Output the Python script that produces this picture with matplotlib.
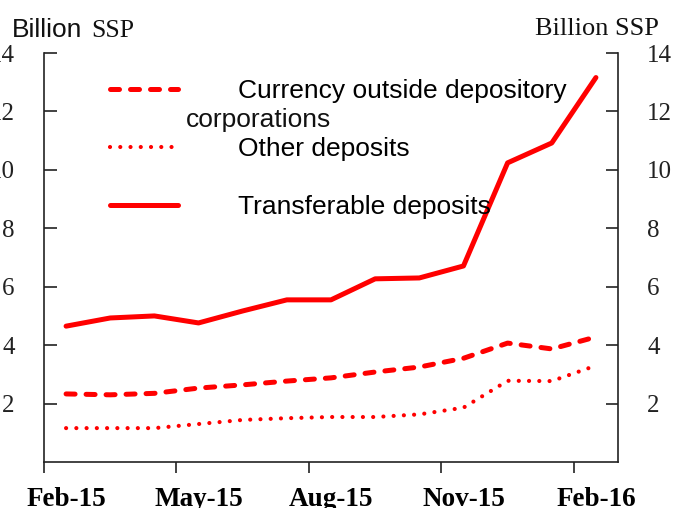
import numpy as np
import matplotlib.pyplot as plt
from matplotlib.ticker import FixedLocator, NullFormatter, FixedFormatter

# monthly data, Feb-15 .. Feb-16 (billion SSP)
months = ["Feb-15", "Mar-15", "Apr-15", "May-15", "Jun-15", "Jul-15", "Aug-15",
          "Sep-15", "Oct-15", "Nov-15", "Dec-15", "Jan-16", "Feb-16"]
currency = [2.33, 2.30, 2.35, 2.53, 2.64, 2.77, 2.88, 3.08, 3.25, 3.55, 4.07, 3.87, 4.28]
other_dep = [1.16, 1.16, 1.16, 1.30, 1.44, 1.50, 1.54, 1.54, 1.63, 1.86, 2.78, 2.77, 3.30]
transfer = [4.65, 4.93, 5.00, 4.76, 5.17, 5.55, 5.55, 6.27, 6.30, 6.71, 10.24, 10.92, 13.16]

label_months = ["Feb-15", "May-15", "Aug-15", "Nov-15", "Feb-16"]
yticks = [2, 4, 6, 8, 10, 12, 14]

red = "#ff0000"
serif = "Liberation Serif"
sans = "Liberation Sans"

fig = plt.figure(figsize=(6.8, 5.08), dpi=100)
ax = fig.add_axes([44/680, 46/508, 574/680, 409/508])

x = np.arange(len(months))
l1, = ax.plot(x, currency, color=red, lw=3.6, linestyle=(0, (1.8, 2.2)),
              dash_capstyle="round", solid_capstyle="round")
l2, = ax.plot(x, other_dep, color=red, lw=3.0, linestyle=(0, (0.01, 2.45)),
              dash_capstyle="round")
l3, = ax.plot(x, transfer, color=red, lw=3.6, solid_capstyle="round",
              solid_joinstyle="round")

ax.set_xlim(-0.5, len(months) - 0.5)
ax.set_ylim(0, 14)

# tick marks between months, labels centred on every third month
ax.xaxis.set_major_locator(FixedLocator(np.arange(-0.5, len(months) - 0.5, 3)))
ax.xaxis.set_major_formatter(NullFormatter())
lab_pos = [months.index(m) for m in label_months]
ax.xaxis.set_minor_locator(FixedLocator(lab_pos))
ax.xaxis.set_minor_formatter(FixedFormatter(label_months))
ax.tick_params(axis="x", which="major", direction="out", length=8, width=1.2, color="#222222")
ax.tick_params(axis="x", which="minor", length=0, pad=18)
for t in ax.get_xticklabels(minor=True):
    t.set_fontfamily(serif)
    t.set_fontsize(19.5)
    t.set_fontweight("bold")

ax.set_yticks(yticks)
ax.tick_params(axis="y", direction="in", length=9, width=1.2, color="#222222",
               left=True, right=True, labelleft=True, labelright=True, pad=21,
               labelsize=18, labelcolor="#222222")
for t in ax.yaxis.get_ticklabels():
    t.set_fontfamily(serif)

ax.spines["top"].set_visible(False)
for s in ["left", "right", "bottom"]:
    ax.spines[s].set_color("#222222")
    ax.spines[s].set_linewidth(1.2)

leg = ax.legend([l1, l2, l3],
                ["Currency outside depository", "Other deposits", "Transferable deposits"],
                loc="upper left", bbox_to_anchor=(0.115, 0.937), frameon=False,
                borderpad=0, borderaxespad=0, handlelength=2.58, handletextpad=2.27,
                labelspacing=1.3, prop={"family": sans, "size": 19})
ax.text(0.247, 0.836, "corporations", transform=ax.transAxes, family=sans,
        fontsize=19, va="center", ha="left", color="#111111")

fig.text(12/680, 1 - 37/508, "Billion", family=sans, fontsize=19, color="#111111")
fig.text(91/680, 1 - 37/508, "SSP", family=serif, fontsize=18.5, color="#111111")
fig.text(535/680, 1 - 35/508, "Billion SSP", family=serif, fontsize=19, color="#111111")

fig.savefig("out.png", dpi=100)
